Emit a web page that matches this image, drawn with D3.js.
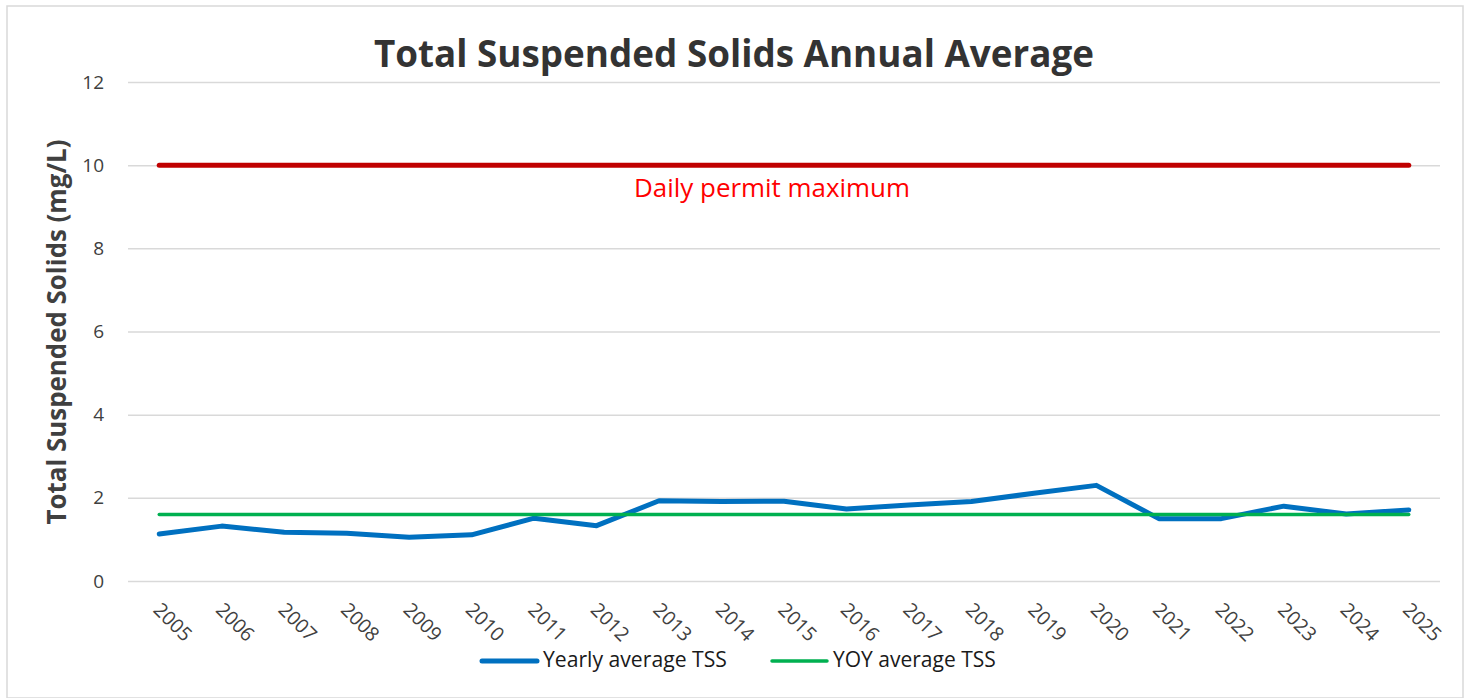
<!DOCTYPE html>
<html>
<head>
<meta charset="utf-8">
<script src="https://cdn.jsdelivr.net/npm/d3@7"></script>
<style>
  html, body { margin: 0; padding: 0; background: #fff; }
  svg { display: block; }
  text { font-family: "Open Sans", "Noto Sans", sans-serif; }
</style>
</head>
<body>
<svg id="chart" width="1469" height="698"></svg>
<script>
const years = ["2005","2006","2007","2008","2009","2010","2011","2012","2013","2014","2015",
               "2016","2017","2018","2019","2020","2021","2022","2023","2024","2025"];
const yearlyTSS = [1.13,1.32,1.17,1.15,1.05,1.11,1.51,1.33,1.93,1.91,1.92,
                   1.73,1.83,1.91,2.11,2.30,1.50,1.50,1.80,1.61,1.71];
const yoyTSS = years.map(() => 1.6);
const permitMax = years.map(() => 10);
const yTicks = [0, 2, 4, 6, 8, 10, 12];
const titleText = "Total Suspended Solids Annual Average";
const yTitleText = "Total Suspended Solids (mg/L)";
const permitLabel = "Daily permit maximum";
const legendItems = [
  {label: "Yearly average TSS", color: "#0070c0"},
  {label: "YOY average TSS", color: "#00b050"}
];

const svg = d3.select("#chart");

// chart border
svg.append("rect").attr("x", 7).attr("y", 6).attr("width", 1456).attr("height", 692)
  .attr("fill", "#fff").attr("stroke", "#d9d9d9").attr("stroke-width", 1.5);

const x = d3.scaleBand().domain(years).range([128, 1440]).padding(0);
const cx = d => x(d) + x.bandwidth() / 2;
const y = d3.scaleLinear().domain([0, 12]).range([581, 82]);

function fit(sel, target) {
  const n = sel.node();
  const fs = parseFloat(sel.attr("font-size"));
  const len = n.getComputedTextLength();
  sel.attr("font-size", (fs * target / len).toFixed(2));
}

// gridlines
const yAxis = d3.axisLeft(y).tickValues(yTicks).tickSize(-(1440 - 128)).tickPadding(24);
const gy = svg.append("g").attr("transform", "translate(128,0)").call(yAxis);
gy.select(".domain").remove();
gy.selectAll(".tick line").attr("stroke", "#d9d9d9").attr("stroke-width", 1.5);
gy.selectAll(".tick text").attr("font-size", 19).attr("fill", "#404040")
  .attr("font-family", "'Open Sans', sans-serif");

// x axis labels
const xAxis = d3.axisBottom(x).tickSize(0).tickPadding(0);
const gx = svg.append("g").attr("transform", "translate(0,581)").call(xAxis);
gx.select(".domain").remove();
gx.selectAll(".tick text")
  .attr("font-size", 19.5).attr("fill", "#404040")
  .attr("font-family", "'Open Sans', sans-serif")
  .attr("text-anchor", "start").attr("dy", null).attr("y", null)
  .attr("transform", "translate(-7,30) rotate(45)");

// permit line
const line = d3.line().x((d, i) => cx(years[i])).y(d => y(d));
svg.append("path").datum(permitMax).attr("d", line)
  .attr("fill", "none").attr("stroke", "#c00000").attr("stroke-width", 5)
  .attr("stroke-linecap", "round");

// yearly line
svg.append("path").datum(yearlyTSS).attr("d", line)
  .attr("fill", "none").attr("stroke", "#0070c0").attr("stroke-width", 5)
  .attr("stroke-linecap", "round").attr("stroke-linejoin", "round");

// YOY line
svg.append("path").datum(yoyTSS).attr("d", line)
  .attr("fill", "none").attr("stroke", "#00b050").attr("stroke-width", 3.5)
  .attr("stroke-linecap", "round");

// permit label
const pl = svg.append("text").attr("x", 772).attr("y", 197).attr("text-anchor", "middle")
  .attr("font-size", 22).attr("fill", "#ff0000").text(permitLabel);
fit(pl, 276);

// title
const t = svg.append("text").attr("x", 734).attr("y", 67).attr("text-anchor", "middle")
  .attr("font-size", 34).attr("font-weight", "bold").attr("fill", "#333333").text(titleText);
fit(t, 720);

// y title
const yt = svg.append("text").attr("transform", "translate(66,332) rotate(-90)")
  .attr("text-anchor", "middle").attr("font-size", 22).attr("font-weight", "bold")
  .attr("fill", "#404040").text(yTitleText);
fit(yt, 385);

// legend
const legX = [482, 772];
const legW = [184, 163];
legendItems.forEach((it, i) => {
  svg.append("line").attr("x1", legX[i]).attr("x2", legX[i] + 55).attr("y1", 661).attr("y2", 661)
    .attr("stroke", it.color).attr("stroke-width", i === 0 ? 5 : 3.5).attr("stroke-linecap", "round");
  const lt = svg.append("text").attr("x", legX[i] + 61).attr("y", 667).attr("font-size", 18)
    .attr("fill", "#1a1a1a").text(it.label);
  fit(lt, legW[i]);
});
</script>
</body>
</html>
